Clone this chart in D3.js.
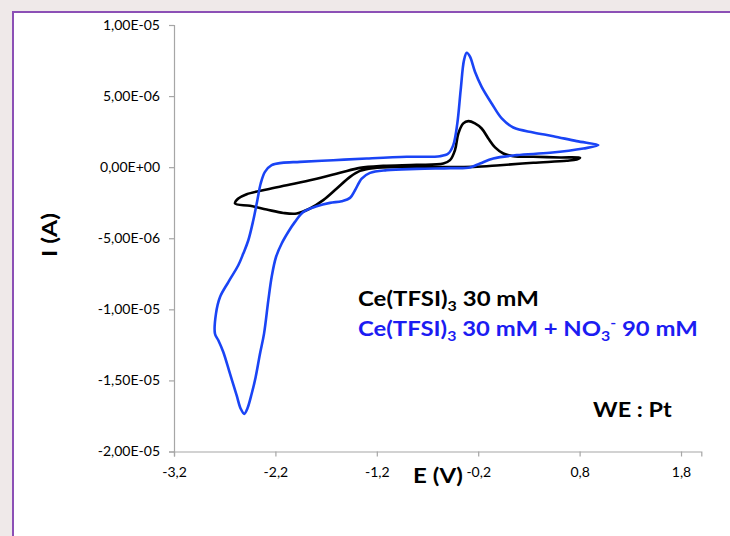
<!DOCTYPE html>
<html><head><meta charset="utf-8">
<script src="https://cdn.jsdelivr.net/npm/d3@7"></script>
<style>
html,body{margin:0;padding:0;background:#efe9e9;}
svg{display:block;}
</style></head><body>
<svg id="chart" width="730" height="536"></svg>
<script>
// ---- data ----
const xTicks = [-3.2, -2.2, -1.2, -0.2, 0.8, 1.8];
const xTickLabels = ["-3,2", "-2,2", "-1,2", "-0,2", "0,8", "1,8"];
const yTicks = [1e-5, 5e-6, 0, -5e-6, -1e-5, -1.5e-5, -2e-5];
const yTickLabels = ["1,00E-05", "5,00E-06", "0,00E+00", "-5,00E-06", "-1,00E-05", "-1,50E-05", "-2,00E-05"];

// Ce(TFSI)3 30 mM  (E in V, I in A)
const blackE = [-2.598,-2.566,-2.483,-2.286,-2.089,-1.826,-1.563,-1.366,-1.136,-0.807,-0.544,-0.478,-0.429,-0.396,-0.347,-0.297,-0.232,-0.166,-0.100,-0.034,0.048,0.146,0.343,0.607,0.804,0.771,0.673,0.343,0.015,-0.248,-0.643,-0.971,-1.234,-1.366,-1.464,-1.595,-1.728,-1.859,-1.990,-2.122,-2.286,-2.450];
const blackI = [-2.56e-6,-2.21e-6,-1.90e-6,-1.57e-6,-1.27e-6,-0.87e-6,-0.40e-6,-0.05e-6,0.09e-6,0.16e-6,0.26e-6,0.49e-6,1.20e-6,2.37e-6,3.08e-6,3.24e-6,3.08e-6,2.72e-6,2.02e-6,1.39e-6,0.96e-6,0.77e-6,0.73e-6,0.68e-6,0.66e-6,0.54e-6,0.45e-6,0.31e-6,0.14e-6,0.02e-6,0.02e-6,0.02e-6,-0.07e-6,-0.26e-6,-0.68e-6,-1.50e-6,-2.32e-6,-2.91e-6,-3.26e-6,-3.22e-6,-2.98e-6,-2.72e-6];

// Ce(TFSI)3 30 mM + NO3- 90 mM
const blueE = [0.985,0.837,0.508,0.180,-0.051,-0.182,-0.281,-0.478,-0.807,-1.102,-1.267,-1.349,-1.415,-1.464,-1.546,-1.662,-1.793,-1.925,-2.007,-2.063,-2.138,-2.194,-2.237,-2.270,-2.312,-2.352,-2.395,-2.434,-2.477,-2.507,-2.542,-2.582,-2.648,-2.714,-2.763,-2.796,-2.786,-2.746,-2.664,-2.566,-2.517,-2.467,-2.418,-2.378,-2.345,-2.303,-2.237,-2.138,-1.957,-1.629,-1.300,-0.905,-0.577,-0.495,-0.446,-0.406,-0.373,-0.340,-0.313,-0.281,-0.232,-0.166,-0.067,0.032,0.146,0.343,0.541,0.771];
const blueI = [1.55e-6,1.31e-6,1.01e-6,0.85e-6,0.61e-6,0.26e-6,-0.02e-6,-0.07e-6,-0.12e-6,-0.21e-6,-0.40e-6,-0.80e-6,-1.62e-6,-2.16e-6,-2.39e-6,-2.51e-6,-2.75e-6,-3.15e-6,-3.85e-6,-4.44e-6,-5.37e-6,-6.32e-6,-7.72e-6,-9.37e-6,-11.71e-6,-13.12e-6,-14.77e-6,-15.94e-6,-16.99e-6,-17.35e-6,-16.99e-6,-16.06e-6,-14.53e-6,-13.00e-6,-12.18e-6,-11.71e-6,-10.30e-6,-9.13e-6,-8.08e-6,-6.90e-6,-6.08e-6,-5.14e-6,-3.73e-6,-2.32e-6,-1.15e-6,-0.33e-6,0.14e-6,0.30e-6,0.37e-6,0.49e-6,0.61e-6,0.73e-6,0.77e-6,0.96e-6,1.55e-6,3.08e-6,5.42e-6,7.53e-6,8.05e-6,7.77e-6,6.71e-6,5.65e-6,4.48e-6,3.43e-6,2.79e-6,2.44e-6,2.18e-6,1.83e-6];

const seriesColors = {black: "#000000", blue: "#1a44f5"};
const textBlue = "#1c1cf2";

// ---- drawing ----
const svg = d3.select("#chart");

// panel
svg.append("rect").attr("x", 13).attr("y", 12).attr("width", 760).attr("height", 560)
  .attr("fill", "#ffffff").attr("stroke", "#8c50b6").attr("stroke-width", 2);

const x = d3.scaleLinear().domain([-3.2, 2.0]).range([174, 701.3]);
const y = d3.scaleLinear().domain([-2e-5, 1e-5]).range([451.5, 25]);

const axisColor = "#a6a6a6";
const tickFont = "Lato, 'Open Sans', sans-serif";

// y axis
const yAxis = svg.append("g").attr("transform", `translate(${x(-3.2)},0)`)
  .call(d3.axisLeft(y).tickValues(yTicks).tickFormat((d, i) => yTickLabels[i]).tickSizeOuter(0).tickSize(5).tickPadding(9));
// x axis
const xAxis = svg.append("g").attr("transform", `translate(0,${y(-2e-5)})`)
  .call(d3.axisBottom(x).tickValues(xTicks).tickFormat((d, i) => xTickLabels[i]).tickSizeOuter(0).tickSize(5).tickPadding(11));

[yAxis, xAxis].forEach(g => {
  g.select(".domain").attr("stroke", axisColor).attr("stroke-width", 1.2);
  g.selectAll(".tick line").attr("stroke", axisColor).attr("stroke-width", 1.2);
  g.selectAll(".tick text").attr("fill", "#000").style("font-family", tickFont).style("font-size", "14px");
});

// curves
const line = d3.line().x(d => x(d[0])).y(d => y(d[1])).curve(d3.curveCatmullRomClosed.alpha(0.5));
const blackPts = blackE.map((e, i) => [e, blackI[i]]);
const bluePts = blueE.map((e, i) => [e, blueI[i]]);

svg.append("path").attr("d", line(blackPts)).attr("fill", "none")
  .attr("stroke", seriesColors.black).attr("stroke-width", 2.6).attr("stroke-linejoin", "round");
svg.append("path").attr("d", line(bluePts)).attr("fill", "none")
  .attr("stroke", seriesColors.blue).attr("stroke-width", 2.6).attr("stroke-linejoin", "round");

// text helper: place text at (tx,ty) and fit horizontally to width w
const titleFont = "Lato, 'Open Sans', sans-serif";
function fitText(g, tx, ty, w, rot) {
  const bw = g.node().getBBox().width;
  const s = w / bw;
  g.attr("transform", `translate(${tx},${ty})` + (rot ? ` rotate(${rot})` : "") + ` scale(${s},1)`);
}

// axis titles
const xt = svg.append("text").text("E (V)").style("font-family", titleFont)
  .style("font-size", "21px").style("font-weight", "bold").attr("fill", "#000");
fitText(xt, 413, 482.5, 50);

const yt = svg.append("text").text("I (A)").style("font-family", titleFont)
  .style("font-size", "21px").style("font-weight", "bold").attr("fill", "#000").attr("text-anchor", "middle");
fitText(yt, 57, 235, 44, -90);

// legend text (dy in px)
function chem(t, parts, color) {
  t.attr("fill", color).style("font-family", titleFont).style("font-size", "21px").style("font-weight", "bold");
  parts.forEach(p => {
    const ts = t.append("tspan").text(p.t);
    if (p.small) ts.style("font-size", "14px");
    if (p.dy) ts.attr("dy", p.dy);
  });
}
const l1 = svg.append("text");
chem(l1, [{t: "Ce(TFSI)"}, {t: "3", small: true, dy: 5}, {t: " 30 mM", dy: -5}], "#000");
fitText(l1, 358, 306, 181);

const l2 = svg.append("text");
chem(l2, [{t: "Ce(TFSI)"}, {t: "3", small: true, dy: 5}, {t: " 30 mM + NO", dy: -5},
          {t: "3", small: true, dy: 5}, {t: "-", small: true, dy: -13}, {t: " 90 mM", dy: 8}], textBlue);
fitText(l2, 358, 336, 340);

const we = svg.append("text").text("WE : Pt").attr("fill", "#000").style("font-family", titleFont)
  .style("font-size", "21px").style("font-weight", "bold");
fitText(we, 593, 417, 79);
</script>
</body></html>
